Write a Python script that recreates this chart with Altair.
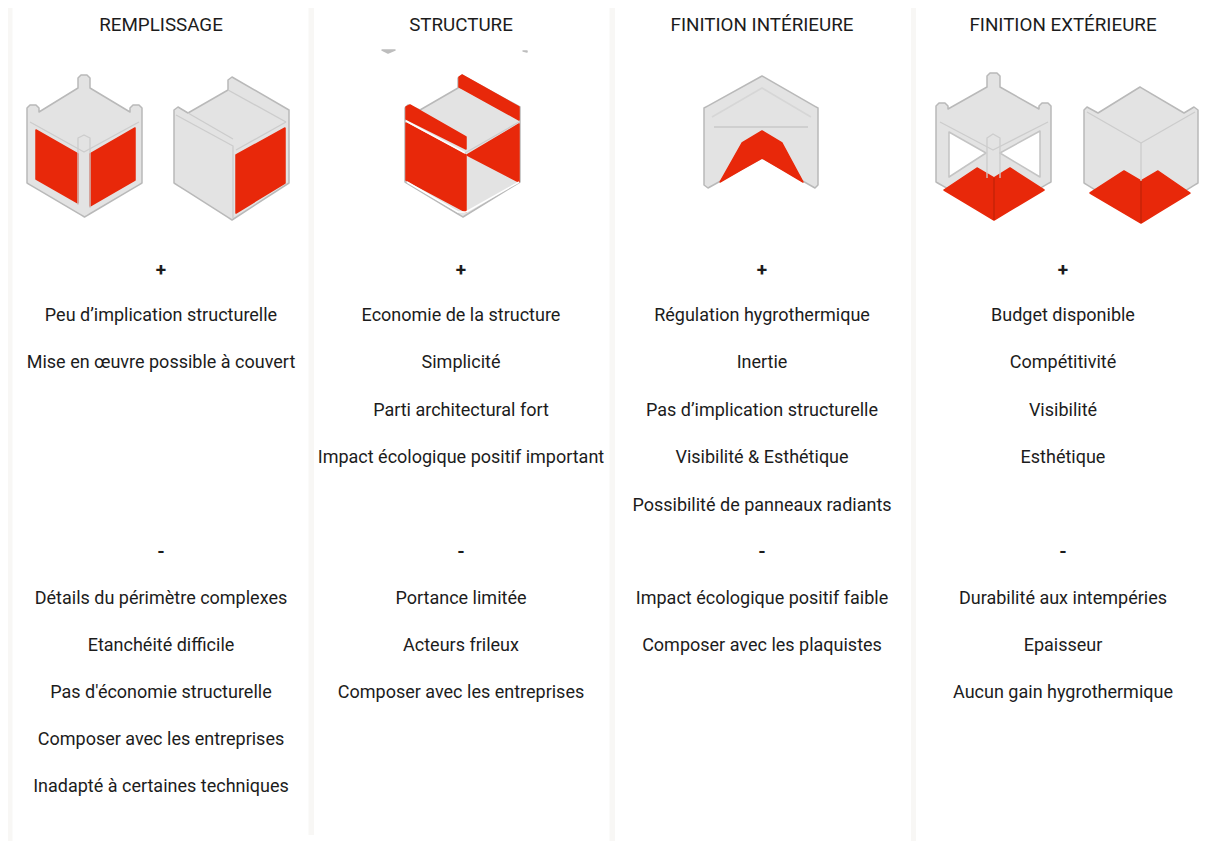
import altair as alt
import pandas as pd

# ---------- text ----------
HEADERS = ["REMPLISSAGE", "STRUCTURE", "FINITION INTÉRIEURE", "FINITION EXTÉRIEURE"]
COL_X = [161, 461, 762, 1063]
HEADER_Y = 25
PLUS_Y = 269.5
MINUS_Y = 552
PROS_Y = [316, 363, 411, 458, 506]
CONS_Y = [599, 645.5, 692.5, 739.5, 786.5]
PROS = [
    ["Peu d’implication structurelle", "Mise en œuvre possible à couvert"],
    ["Economie de la structure", "Simplicité", "Parti architectural fort", "Impact écologique positif important"],
    ["Régulation hygrothermique", "Inertie", "Pas d’implication structurelle", "Visibilité & Esthétique", "Possibilité de panneaux radiants"],
    ["Budget disponible", "Compétitivité", "Visibilité", "Esthétique"],
]
CONS = [
    ["Détails du périmètre complexes", "Etanchéité difficile", "Pas d'économie structurelle", "Composer avec les entreprises", "Inadapté à certaines techniques"],
    ["Portance limitée", "Acteurs frileux", "Composer avec les entreprises"],
    ["Impact écologique positif faible", "Composer avec les plaquistes"],
    ["Durabilité aux intempéries", "Epaisseur", "Aucun gain hygrothermique"],
]

# ---------- column separators ----------
BAR_X0 = [7.5, 308.5, 609.5, 911]
BAR_X1 = [12.5, 314, 615, 916]
BAR_Y0 = [6, 6, 6, 5]
BAR_Y1 = [841, 835, 841, 841]

# ---------- icon geometry: (role, top chain, bottom chain) ----------
SHAPES = [
    # remplissage, frame
    ("wall", [(27,183),(27,108),(30,105),(36,105),(39,108),(39,112),(78,88),(78,78),(81,75),(87,75),(90,78),(90,88),(130,112),(130,108),(133,105),(139,105),(142,108),(142,183)],
     [(27,183),(84.5,217),(142,183)]),
    ("red", [(36,130),(78,154)], [(36,179),(78,203)]),
    ("red", [(90,154),(135,128)], [(90,206),(135,180)]),
    # remplissage, wall
    ("wall", [(174,183),(174,110),(178,107),(188,113),(228,90),(228,80),(232,77),(289,110),(289,183)],
     [(174,183),(232,220),(289,183)]),
    ("red", [(236,155),(285,128)], [(236,213),(285,183)]),
    # structure
    ("wall", [(405,182),(405,108),(408,105),(420,110),(458,88),(458,78),(462,75),(520,107),(520,182)],
     [(405,182),(463,217),(520,182)]),
    ("red", [(406,107),(410,105),(466,137)], [(406,119),(466,149)]),
    ("red", [(406,123),(466,155)], [(406,180),(466,212)]),
    ("red", [(459,77),(462,75),(519,107)], [(459,87),(519,120)]),
    ("red", [(467,155),(519,124)], [(467,155),(519,182)]),
    ("soft", [(382,50),(395,50)], [(382,50),(388,53),(395,50)]),
    ("soft", [(523,51),(527,51)], [(523,51),(527,52)]),
    # finition interieure
    ("wall", [(704,185),(704,108),(762,76),(818,108),(818,185)],
     [(704,185),(708,188),(762,158),(815,188),(818,185)]),
    ("red", [(720,182),(742,143),(762,131),(782,143),(803,182)], [(720,182),(762,158),(803,182)]),
    # finition exterieure, frame
    ("wall", [(936,182),(936,106),(939,103),(945,103),(948,106),(948,109),(987,87),(987,76),(990,73),(997,73),(1000,76),(1000,87),(1039,109),(1039,106),(1042,103),(1048,103),(1051,106),(1051,182)],
     [(936,182),(993,215),(1051,182)]),
    ("hole", [(949,132),(986,153)], [(949,177),(986,153)]),
    ("hole", [(1000,153),(1040,131)], [(1000,153),(1040,177)]),
    ("red", [(944,190),(977,168),(994,178),(1010,168),(1044,190)], [(944,190),(994,220),(1044,190)]),
    # finition exterieure, wall
    ("wall", [(1084,183),(1084,110),(1087,107),(1098,113),(1140,87),(1184,113),(1194,107),(1198,110),(1198,183)],
     [(1084,183),(1141,218),(1198,183)]),
    ("red", [(1090,193),(1124,171),(1141,181),(1158,171),(1190,193)], [(1090,193),(1141,223),(1190,193)]),
]
ROLES = ["wall", "red", "hole", "soft"]
FILLS = ["#e3e3e3", "#e8280a", "#ffffff", "#bdbdbd"]
STROKES = ["#b9b9b9", "#e8280a", "#c4c4c4", "#bdbdbd"]

LINES = [
    ("edge", [(30,122),(84,152),(139,122)]),
    ("edge", [(78,154),(78,138),(84,135),(90,138),(90,154)]),
    ("edge", [(78,154),(78,205)]),
    ("edge", [(90,154),(90,208)]),
    ("edge", [(176,115),(233,146),(233,218)]),
    ("edge", [(188,113),(233,139)]),
    ("edge", [(228,90),(286,122)]),
    ("edge", [(236,150),(286,122)]),
    ("band", [(406,121),(465,153)]),
    ("edge", [(465,153),(519,122)]),
    ("band", [(407,182),(458,212),(466,212)]),
    ("band", [(466,212),(519,182)]),
    ("pale", [(712,117),(762,88),(811,117)]),
    ("fold", [(714,127),(808,127)]),
    ("edge", [(940,122),(993,150),(1048,122)]),
    ("edge", [(987,178),(987,138),(993,134),(1000,138),(1000,178)]),
    ("edge", [(1087,112),(1141,143),(1195,112)]),
    ("edge", [(1141,143),(1141,182)]),
    ("seam", [(994,178),(994,220)]),
    ("seam", [(1141,181),(1141,223)]),
]
LINE_ROLES = ["edge", "band", "pale", "fold", "seam"]
LINE_COLORS = ["#cccccc", "#ffffff", "#d6d6d6", "#cfcfcf", "#cf2408"]
LINE_WIDTHS = [1.3, 2, 1.3, 3, 1]


def interp(chain, x):
    for (x0, y0), (x1, y1) in zip(chain, chain[1:]):
        if x0 < x1 and x0 <= x <= x1:
            return y0 + (y1 - y0) * (x - x0) / (x1 - x0)
    return chain[-1][1]


def area_rows(sid, role, top, bottom):
    rows = []
    for x in sorted({p[0] for p in top} | {p[0] for p in bottom}):
        ts = [p[1] for p in top if p[0] == x] or [interp(top, x)]
        bs = [p[1] for p in bottom if p[0] == x] or [interp(bottom, x)]
        for k in range(max(len(ts), len(bs))):
            rows.append({"id": sid, "role": role, "x": x + 0.001 * k,
                         "top": ts[min(k, len(ts) - 1)], "bot": bs[min(k, len(bs) - 1)]})
    return rows


shape_rows = []
for n, (role, top, bottom) in enumerate(SHAPES):
    shape_rows += area_rows(f"s{n:02d}", role, top, bottom)
shapes = pd.DataFrame(shape_rows)

line_rows = []
for n, (role, pts) in enumerate(LINES):
    for i, (x, y) in enumerate(pts):
        line_rows.append({"id": f"l{n:02d}", "role": role, "x": x, "y": y, "i": i})
lines = pd.DataFrame(line_rows)

bars = pd.DataFrame({"x": BAR_X0, "x2": BAR_X1, "y": BAR_Y0, "y2": BAR_Y1})

body, heads, signs = [], [], []
for c, cx in enumerate(COL_X):
    heads.append({"x": cx, "y": HEADER_Y, "t": HEADERS[c]})
    signs.append({"x": cx, "y": PLUS_Y, "t": "+"})
    signs.append({"x": cx, "y": MINUS_Y, "t": "-"})
    for t, y in zip(PROS[c], PROS_Y):
        body.append({"x": cx, "y": y, "t": t})
    for t, y in zip(CONS[c], CONS_Y):
        body.append({"x": cx, "y": y, "t": t})

W, H = 1196, 833
X = alt.X("x:Q", scale=alt.Scale(domain=[8, 1204], range=[0, W]), axis=None)
Y = alt.Y("y:Q", scale=alt.Scale(domain=[8, 841], range=[0, H]), axis=None)
Y_TOP = alt.Y("top:Q", scale=alt.Scale(domain=[8, 841], range=[0, H]), axis=None)

bar_layer = alt.Chart(bars).mark_rect(color="#f8f7f5").encode(x=X, x2="x2:Q", y=Y, y2="y2:Q")

area_layer = alt.Chart(shapes).mark_area(orient="vertical", strokeWidth=1.5, strokeJoin="round", opacity=1).encode(
    x=X, y=Y_TOP, y2="bot:Q",
    detail="id:N",
    fill=alt.Fill("role:N", scale=alt.Scale(domain=ROLES, range=FILLS), legend=None),
    stroke=alt.Stroke("role:N", scale=alt.Scale(domain=ROLES, range=STROKES), legend=None),
)

line_layer = alt.Chart(lines).mark_line(strokeJoin="round").encode(
    x=X, y=Y,
    detail="id:N",
    order=alt.Order("i:Q"),
    color=alt.Color("role:N", scale=alt.Scale(domain=LINE_ROLES, range=LINE_COLORS), legend=None),
    strokeWidth=alt.StrokeWidth("role:N", scale=alt.Scale(domain=LINE_ROLES, range=LINE_WIDTHS), legend=None),
)

FONT = "Roboto"
def text_layer(rows, **kw):
    return alt.Chart(pd.DataFrame(rows)).mark_text(
        font=FONT, color="#1c1c1c", align="center", baseline="middle", **kw
    ).encode(x=X, y=Y, text="t:N")

chart = alt.layer(
    bar_layer, area_layer, line_layer,
    text_layer(heads, fontSize=18.8),
    text_layer(signs, fontSize=19, fontWeight="bold"),
    text_layer(body, fontSize=18),
).properties(
    width=W, height=H, padding=0, autosize=alt.AutoSizeParams(type="none"), background="#ffffff"
).configure_view(stroke=None)

chart.save("out.html", embed_options={"renderer": "svg", "actions": False})
